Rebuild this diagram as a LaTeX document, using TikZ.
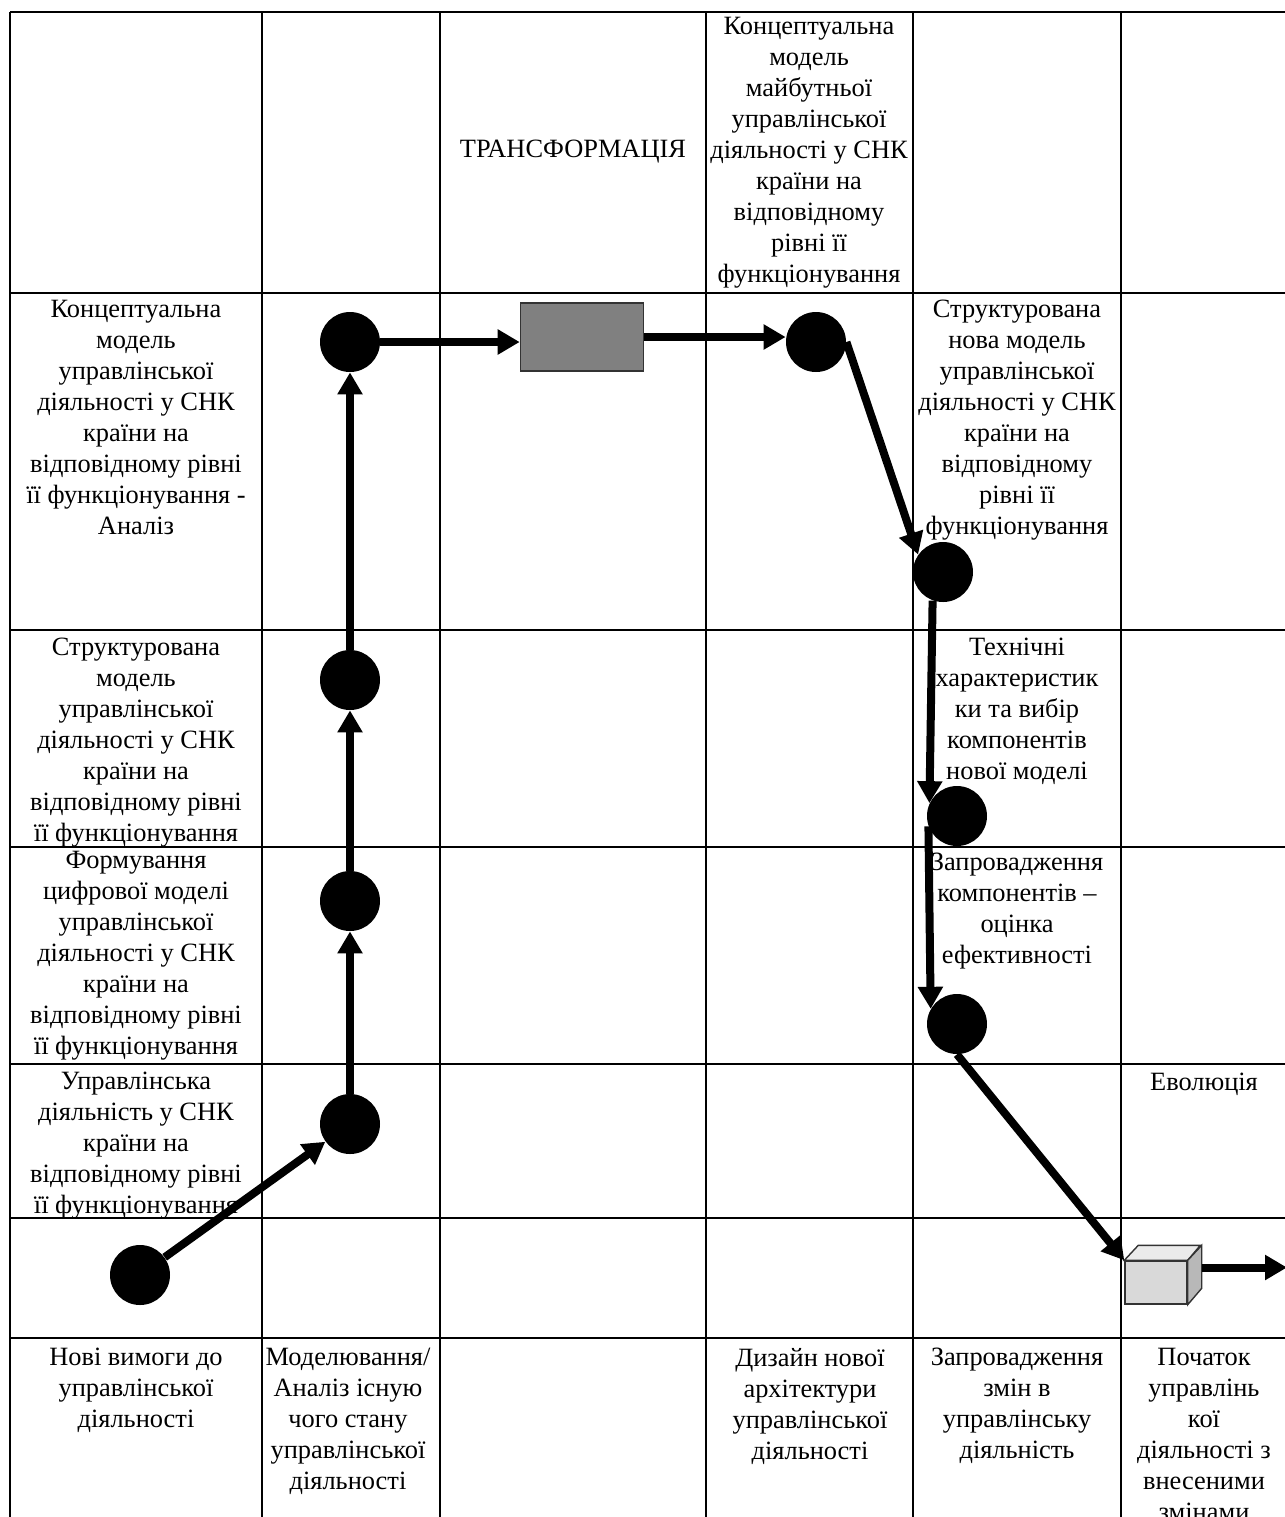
\documentclass[tikz,border=0pt]{standalone}
\usepackage{fontspec}
\setmainfont{Liberation Serif}
\usetikzlibrary{shapes,arrows.meta}
\newcommand{\cell}[3]{node[celltext](#1) at #2 {#3}}

\begin{document}
\begin{tikzpicture}[
      x=0.5pt, y=-0.5pt,
      >={Triangle[length=11pt,width=12pt]},
      grid/.style={line width=1pt,draw=black},
      arrow/.style={line width=4pt, ->, draw=black},
      dot/.style={circle,fill=black,minimum size=30pt,inner sep=0pt},
      stage/.style={rectangle,fill=black!50,draw=black!80,line width=0.8pt,minimum width=61.5pt,minimum height=34pt},
      cube/.style={rectangle,fill=black!15,draw=black!80,line width=0.7pt,minimum width=31pt,minimum height=21.5pt},
      celltext/.style={anchor=north,align=center,inner sep=0pt,font=\fontsize{13.2pt}{15.5pt}\selectfont}
      ]
      \useasboundingbox (0,0) rectangle (1285,1517);
      \clip (0,0) rectangle (1285,1517);
      % table
      \foreach \x in {10,262,440,706,913,1121,1290}
        \draw[grid] (\x,12) -- (\x,1530);
      \foreach \y in {12,293,630,847,1064,1218,1338,1530}
        \draw[grid] (10,\y) -- (1290,\y);

      % top row
      \node[celltext,anchor=center] (transform) at (573,152) {ТРАНСФОРМАЦІЯ};
      \node[celltext,anchor=center] (future) at (809,153) {Концептуальна\\модель\\майбутньої\\управлінської\\діяльності у СНК\\країни на\\відповідному\\рівні її\\функціонування};

      % left column
      \path \cell{analysis}{(136,300)}{Концептуальна\\модель\\управлінської\\діяльності у СНК\\країни на\\відповідному рівні\\її функціонування -\\Аналіз};
      \path \cell{structured}{(136,638)}{Структурована\\модель\\управлінської\\діяльності у СНК\\країни на\\відповідному рівні\\її функціонування};
      \path \cell{digital}{(136,851)}{Формування\\цифрової моделі\\управлінської\\діяльності у СНК\\країни на\\відповідному рівні\\її функціонування};
      \path \cell{current}{(136,1072)}{Управлінська\\діяльність у СНК\\країни на\\відповідному рівні\\її функціонування};

      % right columns
      \path \cell{newmodel}{(1017,300)}{Структурована\\нова модель\\управлінської\\діяльності у СНК\\країни на\\відповідному\\рівні її\\функціонування};
      \path \cell{specs}{(1017,638)}{Технічні\\характеристик\\ки та вибір\\компонентів\\нової моделі};
      \path \cell{deploy}{(1017,853)}{Запровадження\\компонентів –\\оцінка\\ефективності};
      \path \cell{evolution}{(1204,1073)}{Еволюція};

      % bottom row
      \path \cell{require}{(136,1348)}{Нові вимоги до\\управлінської\\діяльності};
      \path \cell{modeling}{(348,1348)}{Моделювання/\\Аналіз існую\\чого стану\\управлінської\\діяльності};
      \path \cell{design}{(810,1348)}{Дизайн нової\\архітектури\\управлінської\\діяльності};
      \path \cell{changes}{(1017,1348)}{Запровадження\\змін в\\управлінську\\діяльність};
      \path \cell{restart}{(1204,1348)}{Початок\\управлінь\\кої\\діяльності з\\внесеними\\змінами};

      % path of the model
      \node[dot] (c0) at (140,1275) {};
      \node[dot] (c1) at (350,1124) {};
      \node[dot] (c2) at (350,901) {};
      \node[dot] (c3) at (350,680) {};
      \node[dot] (c4) at (350,342) {};
      \node[stage] (trans) at (582,337) {};
      \node[dot] (c5) at (816,342) {};
      \node[dot] (c6) at (943,572) {};
      \node[dot] (c7) at (957,816) {};
      \node[dot] (c8) at (957,1024) {};
      \node[cube] (box) at (1156,1282.5) {};
      \draw[fill=black!8,draw=black!80,line width=0.7pt] (box.north west) -- ++(14,-15) -- ++(62,0) -- (box.north east) -- cycle;
      \draw[fill=black!28,draw=black!80,line width=0.7pt] (box.north east) -- ++(14,-15) -- ++(0,43) -- (box.south east) -- cycle;
      \coordinate (boxside) at ([shift={(7pt,7.5pt)}]box.east);
      \coordinate (exit) at (1287,1267.5);

      \path (c0) edge [arrow] (c1);
      \path (c1) edge [arrow] (c2);
      \path (c2) edge [arrow] (c3);
      \path (c3) edge [arrow] (c4);
      \path (c4) edge [arrow] (c4 -| trans.west);
      \path (trans.east) edge [arrow] (trans.east -| c5.west);
      \path (c5.east) edge [arrow] (c6.145);
      \path (c6.250) edge [arrow] (c7.155);
      \path (c7.200) edge [arrow] (c8.150);
      \path (c8.south) edge [arrow] (box.north west);
      \path (boxside) edge [arrow] (exit);
    \end{tikzpicture}
\end{document}
